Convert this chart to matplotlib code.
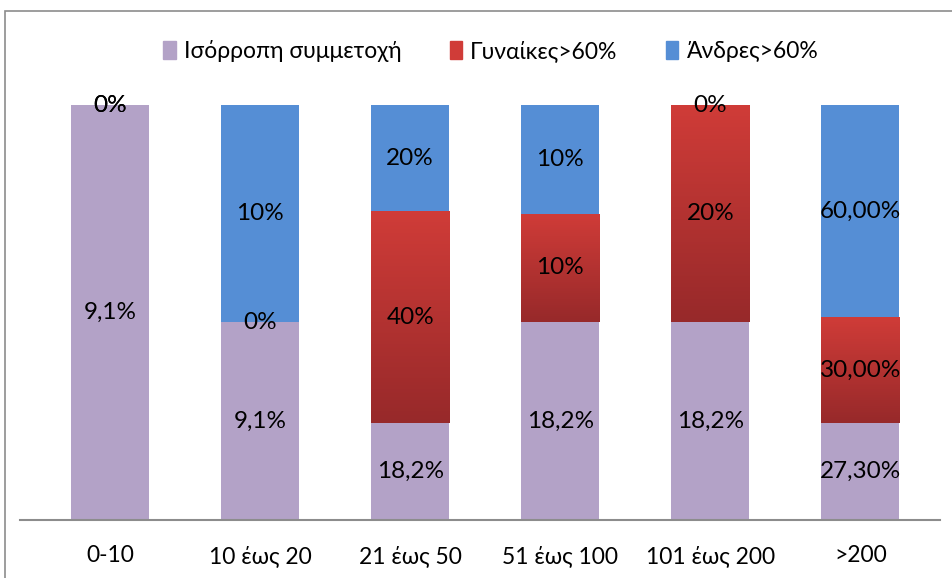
import numpy as np
import matplotlib.pyplot as plt
from matplotlib.colors import LinearSegmentedColormap
from matplotlib.patches import Rectangle

plt.rcParams['font.family'] = ['Lato', 'Open Sans', 'DejaVu Sans']

categories = ['0-10', '10 έως 20', '21 έως 50', '51 έως 100', '101 έως 200', '>200']
balanced = [9.1, 9.1, 18.2, 18.2, 18.2, 27.3]
women = [0, 0, 40, 10, 20, 30]
men = [0, 10, 20, 10, 0, 60]
lab_balanced = ['9,1%', '9,1%', '18,2%', '18,2%', '18,2%', '27,30%']
lab_women = ['0%', '0%', '40%', '10%', '20%', '30,00%']
lab_men = ['0%', '10%', '20%', '10%', '0%', '60,00%']
series_names = ['Ισόρροπη συμμετοχή', 'Γυναίκες>60%', 'Άνδρες>60%']

col_purple = '#b3a2c7'
col_red_top = '#d03c38'
col_red_bot = '#97292a'
col_blue = '#558ed5'

b = np.array(balanced, float)
w = np.array(women, float)
m = np.array(men, float)
tot = b + w + m
tot[tot == 0] = 1
pb, pw, pm = b / tot, w / tot, m / tot
x = np.arange(len(categories))
width = 0.52

fig = plt.figure(figsize=(9.53, 5.78), dpi=100)
ax = fig.add_axes([20 / 953, 1 - 520 / 578, 920 / 953, 415 / 578])

ax.bar(x, pb, width, color=col_purple, zorder=2)
red_bars = ax.bar(x, pw, width, bottom=pb, color=col_red_top, zorder=2)
ax.bar(x, pm, width, bottom=pb + pw, color=col_blue, zorder=2)

# gradient on red segments
cmap = LinearSegmentedColormap.from_list('red', [col_red_bot, col_red_top])
grad = np.linspace(0, 1, 256).reshape(-1, 1)
for rect in red_bars:
    h = rect.get_height()
    if h <= 0:
        continue
    x0, y0 = rect.get_x(), rect.get_y()
    im = ax.imshow(grad, cmap=cmap, aspect='auto', origin='lower',
                   extent=[x0, x0 + rect.get_width(), y0, y0 + h], zorder=2.5)
    im.set_clip_path(rect)

fs = 17.5
for i in range(len(categories)):
    ax.text(x[i], pb[i] / 2, lab_balanced[i], ha='center', va='center', fontsize=fs, zorder=5)
    ax.text(x[i], pb[i] + pw[i] / 2, lab_women[i], ha='center', va='center', fontsize=fs, zorder=5)
    ax.text(x[i], pb[i] + pw[i] + pm[i] / 2, lab_men[i], ha='center', va='center', fontsize=fs, zorder=5)

ax.set_xlim(-0.6, 5.53)
ax.set_ylim(0, 1)
ax.set_xticks(x)
ax.set_xticklabels(categories, fontsize=16.5)
ax.tick_params(axis='x', length=0, pad=18)
ax.set_yticks([])
for s in ['top', 'right', 'left']:
    ax.spines[s].set_visible(False)
ax.spines['bottom'].set_color('#8c8c8c')
ax.spines['bottom'].set_linewidth(1.5)

handles = [Rectangle((0, 0), 1, 1, color=c) for c in [col_purple, col_red_top, col_blue]]
fig.legend(handles, series_names, loc='center', bbox_to_anchor=(0.515, 1 - 51 / 578),
           ncol=3, frameon=False, fontsize=16.5, handlelength=0.55, handleheight=0.85,
           handletextpad=0.35, columnspacing=2.1)

# outer border of the chart area
fig.patches.append(Rectangle((5 / 953, -0.05), 1.1, 1 - 11 / 578 + 0.05, transform=fig.transFigure,
                             fill=False, edgecolor='#8c8c8c', linewidth=1.2))

fig.savefig('out.png', dpi=100)
